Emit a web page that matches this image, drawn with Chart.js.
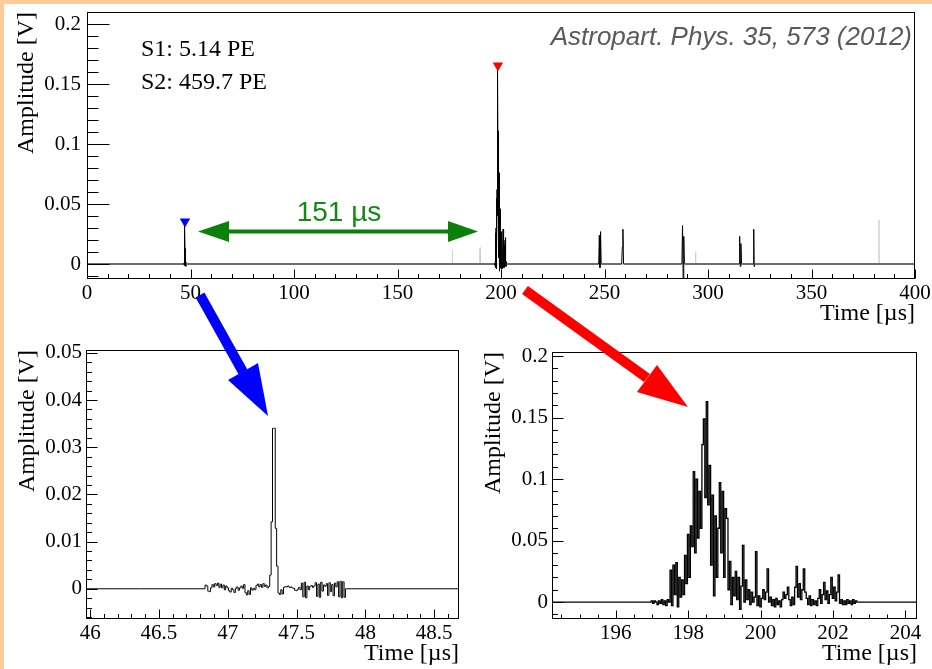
<!DOCTYPE html>
<html lang="en">
<head>
<meta charset="UTF-8">
<title>S1 / S2 waveform</title>
<script src="https://cdn.jsdelivr.net/npm/chart.js@4"></script>
<style>
  body { margin: 0; background: #fff; }
  #page { position: relative; width: 932px; height: 669px; overflow: hidden; background: #fff; }
  .edge { position: absolute; background: #ffcc99; }
  canvas { position: absolute; }
  svg { position: absolute; left: 0; top: 0; }
</style>
</head>
<body>
<div id="page">
  <div class="edge" style="left:0;top:0;width:4px;height:669px"></div>
  <div class="edge" style="left:0;top:0;width:932px;height:4px"></div>
  <canvas id="full" width="932" height="335" style="left:0;top:0"></canvas>
  <canvas id="s1" width="470" height="334" style="left:0;top:335px"></canvas>
  <canvas id="s2" width="462" height="334" style="left:470px;top:335px"></canvas>

  <svg width="932" height="669">
    <text x="141" y="56" font-family="Liberation Serif" font-size="24">S1: 5.14 PE</text>
    <text x="141" y="89" font-family="Liberation Serif" font-size="24">S2: 459.7 PE</text>
    <text x="912" y="45" text-anchor="end" font-family="Liberation Sans" font-style="italic" font-size="26" fill="#5a5a5a">Astropart. Phys. 35, 573 (2012)</text>
    <text x="339" y="221" text-anchor="middle" font-family="Liberation Sans" font-size="28" fill="#138a13">151 µs</text>
    <!-- green double arrow -->
    <polygon fill="#0b800b" points="198,231.5 229,221 229,229.5 448,229.5 448,221 478,231.5 448,242 448,233.5 229,233.5 229,242"/>
    <!-- blue arrow to S1 -->
    <line x1="200" y1="295" x2="243" y2="372" stroke="#0000ff" stroke-width="10"/>
    <polygon fill="#0000ff" points="228,380 258,363 268,416"/>
    <!-- red arrow to S2 -->
    <line x1="525" y1="290" x2="647" y2="378" stroke="#ff0000" stroke-width="10"/>
    <polygon fill="#ff0000" points="637,392 657,365 688,407"/>
  </svg>
</div>

<script>
// ---- data ----
// full trace: baseline ends
const baseTime = [0, 400];
const baseAmp = [0, 0];

// S1 pulse (lower left), sampled every 10 ns
const s1Time = [45.90, 46.83,
  46.84, 46.85, 46.86, 46.87, 46.88, 46.89,
  46.90, 46.91, 46.92, 46.93, 46.94, 46.95, 46.96, 46.97, 46.98, 46.99,
  47.00, 47.01, 47.02, 47.03, 47.04, 47.05, 47.06, 47.07, 47.08, 47.09,
  47.10, 47.11, 47.12, 47.13, 47.14, 47.15, 47.16, 47.17, 47.18, 47.19,
  47.20, 47.21, 47.22, 47.23, 47.24, 47.25, 47.26, 47.27, 47.28, 47.29,
  47.30, 47.31, 47.32, 47.33, 47.34, 47.35, 47.36, 47.37, 47.38, 47.39,
  47.40, 47.41, 47.42, 47.43, 47.44, 47.45, 47.46, 47.47, 47.48, 47.49,
  47.50, 47.51, 47.52, 47.53, 47.54, 47.55, 47.56, 47.57, 47.58, 47.59,
  47.60, 47.61, 47.62, 47.63, 47.64, 47.65, 47.66, 47.67, 47.68, 47.69,
  47.70, 47.71, 47.72, 47.73, 47.74, 47.75, 47.76, 47.77, 47.78, 47.79,
  47.80, 47.81, 47.82, 47.83, 47.84, 47.85, 47.86, 48.80];
const s1Amp = [0, 0,
  0.0008, 0.0006, -0.0005, -0.0006, 0.0002, 0.0009,
  0.0004, 0.0011, 0.0007, 0.0012, 0.0003, 0.0010, 0.0002, 0.0008, -0.0002, 0.0006,
  0.0002, -0.0004, -0.0007, 0.0001, -0.0002, -0.0008, 0.0001, 0.0004, -0.0003, 0.0002,
  0.0006, 0.0001, 0.0009, -0.0008, -0.0013, -0.0004, -0.0012, 0.0002, -0.0003, 0.0001,
  -0.0002, 0.0007, 0.0010, 0.0004, 0.0009, 0.0003, 0.0011, 0.0005, 0.0008, 0.0002,
  0.0005, 0.0029, 0.0142, 0.0340, 0.0340, 0.0128, 0.0048, -0.0009, -0.0012, -0.0002,
  -0.0011, 0.0003, 0.0005, 0.0004, 0.0006, 0.0003, 0.0004, 0.0002, 0.0001, -0.0003,
  -0.0004, -0.0001, 0.0003, -0.0002, 0.0012, -0.0017, 0.0014, -0.0019, 0.0006, -0.0002,
  0.0005, 0.0007, 0.0003, 0.0006, 0.0013, -0.0016, 0.0010, -0.0018, 0.0014, -0.0005,
  0.0008, 0.0005, 0.0011, -0.0014, 0.0013, -0.0006, 0.0009, -0.0015, 0.0012, 0.0004,
  0.0015, -0.0017, 0.0016, -0.0019, 0.0015, -0.0018, 0, 0];

// S2 pulse (lower right), sampled every 40 ns
const s2Time = [194.00,
  196.96, 197.00, 197.04, 197.08, 197.12, 197.16, 197.20, 197.24, 197.28, 197.32,
  197.36, 197.40, 197.44, 197.48, 197.52, 197.56, 197.60, 197.64, 197.68, 197.72,
  197.76, 197.80, 197.84, 197.88, 197.92, 197.96, 198.00, 198.04, 198.08, 198.12,
  198.16, 198.20, 198.24, 198.28, 198.32, 198.36, 198.40, 198.44, 198.48, 198.52,
  198.56, 198.60, 198.64, 198.68, 198.72, 198.76, 198.80, 198.84, 198.88, 198.92,
  198.96, 199.00, 199.04, 199.08, 199.12, 199.16, 199.20, 199.24, 199.28, 199.32,
  199.36, 199.40, 199.44, 199.48, 199.52, 199.56, 199.60, 199.64, 199.68, 199.72,
  199.76, 199.80, 199.84, 199.88, 199.92, 199.96, 200.00, 200.04, 200.08, 200.12,
  200.16, 200.20, 200.24, 200.28, 200.32, 200.36, 200.40, 200.44, 200.48, 200.52,
  200.56, 200.60, 200.64, 200.68, 200.72, 200.76, 200.80, 200.84, 200.88, 200.92,
  200.96, 201.00, 201.04, 201.08, 201.12, 201.16, 201.20, 201.24, 201.28, 201.32,
  201.36, 201.40, 201.44, 201.48, 201.52, 201.56, 201.60, 201.64, 201.68, 201.72,
  201.76, 201.80, 201.84, 201.88, 201.92, 201.96, 202.00, 202.04, 202.08, 202.12,
  202.16, 202.20, 202.24, 202.28, 202.32, 202.36, 202.40, 202.44, 202.48, 202.52,
  202.56, 202.60, 202.64, 202.68, 204.50];
const s2Amp = [0,
  0, 0.001, -0.001, 0.001, 0.000, -0.002, 0.001, -0.001, 0.002, -0.002,
  0.001, -0.003, 0.002, 0.000, 0.026, -0.003, 0.030, 0.006, 0.032, -0.004,
  0.020, 0.004, 0.018, 0.006, 0.038, 0.015, 0.055, 0.020, 0.062, 0.045,
  0.106, 0.040, 0.100, 0.052, 0.090, 0.060, 0.128, 0.149, 0.085, 0.163,
  0.079, 0.111, 0.030, 0.087, 0.005, 0.070, 0.020, 0.060, 0.097, 0.040,
  0.090, 0.020, 0.076, 0.068, 0.010, 0.033, -0.002, 0.020, 0.005, 0.025,
  0.002, 0.020, -0.006, 0.013, 0.046, 0.000, 0.018, 0.002, 0.010, -0.002,
  0.008, 0.000, 0.004, 0.041, -0.003, 0.005, -0.004, 0.003, 0.010, 0.002,
  0.008, 0.027, 0.000, 0.004, -0.003, 0.002, -0.004, 0.003, -0.002, 0.001,
  -0.004, 0.002, 0.008, 0.003, 0.006, 0.012, 0.002, -0.003, 0.004, -0.002,
  0.012, 0.029, 0.004, 0.015, 0.002, 0.010, 0.027, 0.008, 0.003, -0.002,
  0.005, -0.003, 0.002, -0.002, 0.001, -0.003, 0.003, 0.010, -0.001, 0.006,
  0.016, 0.002, 0.009, -0.001, 0.006, 0.020, 0.003, 0.012, 0.001, 0.008,
  0.022, -0.001, 0.002, -0.002, 0.001, -0.002, 0.002, -0.001, 0.001, -0.002,
  0.002, -0.001, 0.001, 0, 0];

// later single photoelectron pulses on the full trace
const pulseTime = [247.2, 247.5, 247.8, 248.1, 248.4,
  258.3, 258.6, 258.9, 259.2,
  287.4, 287.7, 288.0, 288.3, 288.6,
  315.0, 315.3, 315.6, 315.9, 316.2,
  321.8, 322.1, 322.3, 322.5];
const pulseAmp = [0, 0.024, -0.003, 0.027, 0,
  0, 0.014, 0.029, 0,
  0, 0.032, -0.012, 0.023, 0,
  0, 0.023, -0.002, 0.017, 0,
  0, 0.029, -0.002, 0];

// faint (grey) pulses
const faintTime = [176.4, 176.5, 176.6, 189.8, 189.9, 190.0, 293.9, 294.0, 294.1, 382.5, 382.6, 382.7];
const faintAmp = [0, 0.0117, 0, 0, 0.0136, 0, 0, 0.0103, 0, 0, 0.0367, 0];

// S1 / S2 markers
const markTime = [47.33, 198.52];
const markAmp = [0.0355, 0.1655];

// tick labels
const fullXTicks = [0, 50, 100, 150, 200, 250, 300, 350, 400];
const fullYTicks = [0, 0.05, 0.1, 0.15, 0.2];
const s1XTicks = [46, 46.5, 47, 47.5, 48, 48.5];
const s1YTicks = [0, 0.01, 0.02, 0.03, 0.04, 0.05];
const s2XTicks = [196, 198, 200, 202, 204];
const s2YTicks = [0, 0.05, 0.1, 0.15, 0.2];

// ---- drawing ----
const serif = "'Liberation Serif', 'Times New Roman', serif";
const pts = (xs, ys) => xs.map((x, i) => ({ x: x, y: ys[i] }));
const fmt = v => String(+v.toFixed(4));

// ROOT-like frame with ticks pointing into the plot
const rootAxes = {
  id: 'rootAxes',
  afterDatasetsDraw(chart, args, o) {
    const { ctx, chartArea: a, scales: { x, y } } = chart;
    const L = Math.round(a.left) + 0.5, T = Math.round(a.top) + 0.5;
    const R = Math.round(a.right) - 0.5, B = Math.round(a.bottom) - 0.5;
    ctx.save();
    ctx.strokeStyle = '#000';
    ctx.lineWidth = 1;
    ctx.beginPath();
    for (let i = Math.ceil(y.min / o.yMinor - 1e-6); i * o.yMinor <= y.max + 1e-9; i++) {
      const v = i * o.yMinor;
      const major = Math.abs(v / o.yMajor - Math.round(v / o.yMajor)) < 1e-6;
      const py = Math.round(y.getPixelForValue(v)) + 0.5;
      ctx.moveTo(L, py);
      ctx.lineTo(L + (major ? o.yLen : o.yLen / 2), py);
    }
    for (let i = Math.ceil(x.min / o.xMinor - 1e-6); i * o.xMinor <= x.max + 1e-9; i++) {
      const v = i * o.xMinor;
      const major = Math.abs(v / o.xMajor - Math.round(v / o.xMajor)) < 1e-6;
      const px = Math.round(x.getPixelForValue(v)) + 0.5;
      ctx.moveTo(px, B);
      ctx.lineTo(px, B - (major ? o.xLen : o.xLen / 2));
    }
    ctx.stroke();
    ctx.strokeRect(L, T, R - L, B - T);
    ctx.restore();
  }
};

function panel(id, datasets, o) {
  return new Chart(document.getElementById(id), {
    type: 'line',
    data: { datasets: datasets },
    options: {
      responsive: false,
      animation: false,
      events: [],
      layout: { padding: o.pad },
      plugins: { legend: { display: false }, tooltip: { enabled: false }, rootAxes: o.axes },
      scales: {
        x: {
          type: 'linear', min: o.xMin, max: o.xMax, offset: false,
          afterBuildTicks: s => { s.ticks = o.xTicks.map(v => ({ value: v })); },
          afterFit: s => { s.height = o.xHeight; s.paddingLeft = 0; s.paddingRight = 0; },
          grid: { display: false, drawTicks: false },
          border: { display: false },
          ticks: { autoSkip: false, maxRotation: 0, padding: 2, color: '#000',
                   font: { family: serif, size: 21 }, callback: v => fmt(v) },
          title: { display: true, text: 'Time [µs]', align: 'end', color: '#000',
                   font: { family: serif, size: 24 }, padding: { top: 0, bottom: o.xTitlePad } }
        },
        y: {
          type: 'linear', min: o.yMin, max: o.yMax,
          afterBuildTicks: s => { s.ticks = o.yTicks.map(v => ({ value: v })); },
          afterFit: s => { s.width = o.yWidth; s.paddingTop = 0; s.paddingBottom = 0; },
          grid: { display: false, drawTicks: false },
          border: { display: false },
          ticks: { padding: o.yPad, color: '#000', font: { family: serif, size: 21 }, callback: v => fmt(v) },
          title: { display: true, text: 'Amplitude [V]', align: 'end', color: '#000',
                   font: { family: serif, size: 24 }, padding: { top: o.yTitlePad, bottom: 0 } }
        }
      }
    },
    plugins: [rootAxes]
  });
}

const flat = c => c.p0.parsed.y === 0 && c.p1.parsed.y === 0;
const fullWave = [].concat(pts(baseTime, baseAmp), pts(s1Time, s1Amp), pts(s2Time, s2Amp), pts(pulseTime, pulseAmp))
  .sort((p, q) => p.x - q.x);

panel('full', [
  { data: pts(markTime, markAmp), showLine: false, pointStyle: 'triangle', pointRotation: 180,
    pointRadius: 6, pointBorderWidth: 0, pointBackgroundColor: ['#0000ff', '#ff0000'] },
  { data: fullWave, borderColor: '#000', borderWidth: 1, pointRadius: 0, tension: 0,
    segment: { borderColor: c => flat(c) ? '#6e6e6e' : '#000', borderWidth: c => flat(c) ? 2 : 1 } },
  { data: pts(faintTime, faintAmp), borderColor: '#cfcfcf', borderWidth: 1, pointRadius: 0 }
], {
  pad: { left: 0, top: 12, right: 17, bottom: 0 }, yWidth: 87, xHeight: 56,
  xMin: 0, xMax: 400, yMin: -0.0125, yMax: 0.21, xTicks: fullXTicks, yTicks: fullYTicks,
  yPad: 6, yTitlePad: 12, xTitlePad: 7,
  axes: { yMajor: 0.05, yMinor: 0.01, yLen: 22, xMajor: 50, xMinor: 10, xLen: 9 }
});

panel('s1', [
  { data: pts(s1Time, s1Amp), stepped: 'middle', borderColor: '#000', borderWidth: 1, pointRadius: 0 }
], {
  pad: { left: 0, top: 15, right: 11, bottom: 0 }, yWidth: 86, xHeight: 50,
  xMin: 45.97, xMax: 48.68, yMin: -0.0064, yMax: 0.0506, xTicks: s1XTicks, yTicks: s1YTicks,
  yPad: 4, yTitlePad: 13, xTitlePad: 1,
  axes: { yMajor: 0.01, yMinor: 0.002, yLen: 11, xMajor: 0.5, xMinor: 0.1, xLen: 9 }
});

panel('s2', [
  { data: pts(s2Time, s2Amp), stepped: 'middle', borderColor: '#000', borderWidth: 1.3, pointRadius: 0 }
], {
  pad: { left: 0, top: 17, right: 15, bottom: 0 }, yWidth: 82, xHeight: 50,
  xMin: 194.24, xMax: 204.32, yMin: -0.0138, yMax: 0.2033, xTicks: s2XTicks, yTicks: s2YTicks,
  yPad: 4, yTitlePad: 9, xTitlePad: 1,
  axes: { yMajor: 0.05, yMinor: 0.01, yLen: 11, xMajor: 2, xMinor: 0.5, xLen: 8 }
});
</script>
</body>
</html>
